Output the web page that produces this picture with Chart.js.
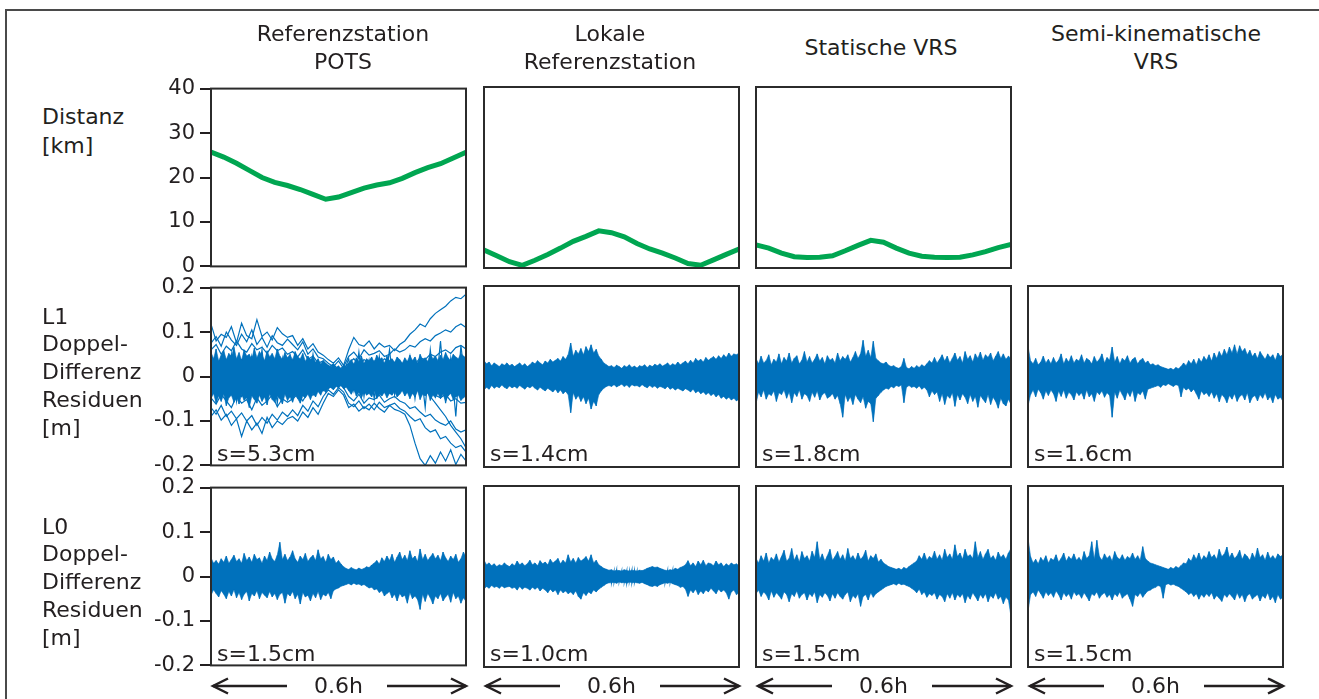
<!DOCTYPE html>
<html>
<head>
<meta charset="utf-8">
<script src="https://cdn.jsdelivr.net/npm/chart.js@4.4.1/dist/chart.umd.min.js"></script>
<style>
body { margin: 0; background: #fff; }
#fig { position: relative; width: 1319px; height: 699px; overflow: hidden; background: #fff;
  font-family: "DejaVu Sans", sans-serif; color: #231f20; }
.txt { position: absolute; font-size: 22px; line-height: 28px; white-space: nowrap; }
.c { transform: translateX(-50%); text-align: center; }
canvas { position: absolute; }
.rule { position: absolute; background: #4a4a4a; }
</style>
</head>
<body>
<div id="fig">
  <div class="rule" style="left:5px;top:9px;width:1314px;height:2px"></div>
  <div class="rule" style="left:5px;top:9px;width:2px;height:690px"></div>
</div>
<script>
// text
var columnTitles = [["Referenzstation", "POTS"], ["Lokale", "Referenzstation"], ["Statische VRS"], ["Semi-kinematische", "VRS"]];
var rowLabels = [["Distanz", "[km]"], ["L1", "Doppel-", "Differenz", "Residuen", "[m]"], ["L0", "Doppel-", "Differenz", "Residuen", "[m]"]];
var sigmaL1 = ["s=5.3cm", "s=1.4cm", "s=1.8cm", "s=1.6cm"];
var sigmaL0 = ["s=1.5cm", "s=1.0cm", "s=1.5cm", "s=1.5cm"];
var spanLabel = "0.6h";
var distTicks = ["0", "10", "20", "30", "40"];
var residTicks = ["-0.2", "-0.1", "0", "0.1", "0.2"];

// distance to reference [km]
var distPOTS = [25.7, 24.6, 23.2, 21.6, 20.0, 18.9, 18.2, 17.3, 16.2, 15.1, 15.6, 16.6, 17.6, 18.3, 18.8, 19.8, 21.1, 22.2, 23.1, 24.4, 25.7];
var distLokal = [4.0, 2.7, 1.4, 0.6, 1.7, 3.0, 4.4, 5.9, 7.0, 8.2, 7.8, 6.9, 5.4, 4.2, 3.3, 2.2, 1.0, 0.6, 1.8, 3.0, 4.2];
var distStatisch = [5.1, 4.4, 3.3, 2.5, 2.3, 2.4, 2.7, 3.8, 5.0, 6.1, 5.7, 4.4, 3.3, 2.6, 2.4, 2.3, 2.4, 2.9, 3.6, 4.5, 5.2];

// L1 residuals POTS, single double differences [mm]
var potsL1A = [118, 80, 95, 88, 112, 76, 120, 92, 85, 128, 90, 100, 82, 110, 96, 88, 92, 70, 85, 62, 74, 55, 48, 38, 30, 42, 25, 60, 88, 72, 68, 80, 62, 75, 66, 70, 58, 72, 80, 95, 105, 118, 112, 130, 142, 150, 158, 170, 178, 175, 185];
var potsL1B = [60, 72, 50, 68, 58, 80, 62, 55, 74, 60, 66, 52, 70, 58, 64, 50, 56, 44, 60, 38, 46, 30, 35, 20, 28, 15, 22, 45, 55, 40, 60, 48, 52, 58, 45, 50, 62, 55, 60, 70, 66, 78, 85, 80, 92, 98, 105, 100, 112, 118, 110];
var potsL1C = [30, 42, 22, 35, 48, 25, 38, 30, 45, 20, 36, 28, 40, 24, 33, 26, 30, 18, 28, 14, 22, 10, 18, 8, 15, 5, 12, 25, 15, 30, 20, 28, 22, 18, 30, 24, 16, 28, 30, 35, 28, 42, 38, 50, 45, 55, 60, 52, 65, 70, 62];
var potsL1D = [10, -5, 18, 5, 22, 0, 12, -8, 15, 5, 20, -2, 10, 14, 0, 8, 5, 12, -4, 8, 2, 10, 0, 5, -3, 8, 0, 10, 2, 15, 5, 8, 0, 12, 4, 10, 6, 2, 8, 12, 5, 15, 10, 20, 14, 25, 18, 30, 22, 28, 35];
var potsL1E = [-10, 5, -18, -2, -12, 8, -20, -5, -15, 2, -22, -8, -3, -14, 4, -10, -6, 2, -10, -2, -8, 0, -5, -2, 4, -6, 0, -5, 2, -8, -3, 4, -6, 0, -4, 2, -7, -2, -5, 0, -8, 2, -4, -10, -2, 5, -6, 0, -8, 3, -4];
var potsL1F = [-30, -15, -40, -22, -35, -18, -45, -28, -20, -38, -25, -42, -30, -20, -36, -26, -28, -18, -30, -15, -22, -12, -18, -10, -16, -6, -12, -20, -14, -25, -18, -22, -15, -28, -20, -18, -24, -16, -22, -28, -20, -32, -38, -30, -42, -48, -40, -55, -50, -60, -58];
var potsL1G = [-48, -62, -40, -55, -70, -45, -60, -52, -75, -48, -65, -55, -42, -68, -50, -58, -50, -40, -55, -35, -42, -28, -32, -20, -28, -15, -25, -45, -55, -40, -60, -48, -52, -42, -58, -50, -45, -55, -60, -72, -68, -80, -90, -85, -98, -105, -110, -100, -118, -125, -120];
var potsL1H = [-70, -85, -65, -90, -78, -95, -82, -100, -88, -110, -92, -105, -85, -98, -80, -90, -75, -88, -65, -78, -55, -68, -45, -30, -40, -25, -35, -60, -68, -55, -72, -62, -75, -58, -70, -65, -60, -72, -78, -90, -100, -95, -115, -125, -120, -140, -135, -150, -160, -155, -170];
var potsL1I = [-90, -75, -98, -85, -110, -95, -135, -100, -120, -105, -128, -92, -115, -100, -108, -95, -90, -100, -80, -92, -70, -85, -60, -38, -45, -30, -42, -70, -62, -78, -68, -75, -60, -72, -80, -65, -74, -78, -85, -110, -150, -185, -200, -178, -195, -170, -190, -165, -198, -175, -190];
var potsL1J = [20, -40, 35, -25, 50, -55, 30, -35, 45, -20, 60, -45, 25, -60, 40, -30, 35, -40, 25, -30, 50, -25, 20, -15, 25, -20, 10, 40, -30, 55, -45, 35, -50, 45, -25, 60, -40, 30, -20, 45, -50, 30, -70, 60, -40, 80, -60, 40, -90, 70, -30];
var potsL1K = [75, 90, 68, 100, 82, 70, 95, 78, 105, 72, 88, 66, 92, 76, 70, 84, 72, 60, 78, 50, 62, 44, 40, 30, 22, 35, 18, 30, 40, 25, 38, 30, 35, 28, 40, 32, 25, 35, 20, 10, 0, -15, -30, -45, -60, -75, -90, -110, -125, -140, -160];
// dense core of the POTS L1 residuals [mm]
var potsL1Upper = [55, 40, 62, 35, 48, 58, 38, 52, 44, 66, 40, 54, 36, 60, 46, 50, 38, 64, 42, 56, 48, 36, 58, 44, 52, 40, 62, 46, 38, 54, 42, 50, 36, 56, 44, 40, 52, 34, 46, 38, 44, 32, 40, 28, 36, 30, 26, 22, 28, 20, 24, 18, 26, 22, 30, 38, 28, 42, 34, 46, 30, 40, 36, 44, 32, 48, 38, 42, 30, 46, 36, 40, 32, 44, 38, 30, 42, 34, 48, 36, 44, 30, 50, 38, 42, 34, 52, 40, 46, 36, 48, 38, 54, 42, 36, 50, 44, 40, 52, 46, 42];
var potsL1Lower = [-50, -38, -60, -44, -56, -40, -66, -48, -42, -58, -46, -62, -40, -54, -48, -70, -44, -52, -60, -42, -56, -46, -64, -40, -52, -58, -44, -50, -62, -40, -54, -46, -58, -42, -50, -60, -44, -48, -40, -52, -38, -46, -34, -42, -30, -36, -28, -24, -30, -22, -26, -20, -28, -24, -32, -40, -30, -44, -36, -48, -34, -42, -38, -46, -32, -50, -40, -44, -36, -48, -38, -42, -34, -46, -40, -32, -44, -36, -50, -38, -46, -32, -52, -40, -44, -36, -54, -42, -48, -38, -50, -40, -56, -44, -38, -52, -46, -42, -54, -48, -44];

// L1 residual envelopes [mm]
var lokalL1Upper = [35, 28, 32, 24, 30, 26, 22, 28, 25, 30, 24, 27, 22, 26, 30, 24, 28, 22, 26, 32, 28, 35, 30, 26, 34, 30, 38, 32, 36, 40, 34, 44, 38, 48, 74, 45, 58, 50, 62, 48, 66, 55, 70, 52, 60, 45, 38, 30, 26, 22, 24, 20, 25, 22, 18, 24, 21, 26, 20, 23, 19, 24, 22, 26, 20, 25, 22, 27, 24, 28, 23, 26, 30, 24, 28, 25, 32, 26, 30, 34, 28, 36, 30, 40, 34, 38, 32, 42, 36, 40, 44, 38, 46, 40, 48, 42, 52, 45, 50, 48, 52];
var lokalL1Lower = [-30, -24, -28, -20, -26, -22, -25, -19, -24, -27, -21, -25, -22, -26, -20, -24, -28, -22, -25, -21, -26, -30, -24, -28, -32, -26, -30, -34, -28, -36, -30, -38, -33, -40, -80, -36, -50, -42, -55, -45, -60, -48, -72, -55, -65, -40, -32, -26, -22, -20, -22, -18, -23, -20, -17, -22, -19, -24, -18, -21, -20, -23, -18, -22, -25, -20, -24, -21, -26, -22, -24, -27, -22, -28, -25, -30, -26, -29, -32, -27, -30, -34, -28, -36, -32, -38, -34, -40, -36, -42, -38, -45, -40, -48, -44, -50, -46, -52, -48, -54, -50];
var statL1Upper = [40, 28, 45, 30, 35, 48, 26, 38, 32, 50, 28, 42, 34, 52, 30, 40, 46, 28, 36, 55, 32, 44, 30, 38, 50, 34, 42, 28, 46, 36, 40, 30, 52, 35, 44, 38, 48, 32, 42, 55, 40, 50, 80, 45, 58, 42, 78, 40, 35, 30, 28, 32, 25, 22, 24, 20, 18, 22, 40, 20, 17, 22, 18, 24, 20, 26, 22, 28, 35, 30, 42, 30, 38, 48, 34, 45, 30, 40, 52, 36, 44, 30, 55, 38, 46, 32, 50, 40, 54, 36, 48, 42, 52, 35, 45, 55, 40, 50, 38, 45, 40];
var statL1Lower = [-60, -35, -45, -30, -50, -38, -42, -32, -55, -36, -40, -30, -48, -34, -58, -36, -44, -30, -50, -38, -42, -55, -35, -46, -32, -52, -40, -36, -48, -44, -38, -50, -42, -60, -90, -40, -55, -45, -62, -40, -50, -58, -45, -70, -55, -60, -100, -48, -42, -35, -30, -26, -28, -22, -25, -20, -22, -19, -58, -24, -20, -24, -22, -26, -21, -28, -24, -30, -45, -32, -40, -34, -55, -38, -62, -42, -48, -36, -66, -40, -52, -38, -46, -60, -40, -55, -44, -68, -42, -50, -58, -40, -62, -46, -55, -70, -48, -60, -65, -50, -62];
var semiL1Upper = [67, 35, 28, 40, 26, 32, 45, 30, 38, 28, 42, 30, 36, 50, 28, 40, 32, 46, 30, 38, 34, 48, 30, 40, 36, 28, 44, 32, 38, 50, 30, 42, 36, 65, 32, 44, 28, 40, 35, 46, 30, 38, 42, 28, 36, 40, 30, 34, 26, 28, 24, 26, 22, 20, 18, 16, 18, 15, 20, 17, 22, 30, 24, 35, 28, 38, 26, 40, 32, 44, 36, 48, 34, 52, 40, 55, 45, 60, 48, 65, 52, 70, 50, 68, 55, 62, 48, 58, 44, 52, 40, 55, 46, 38, 50, 42, 48, 36, 52, 44, 50];
var semiL1Lower = [-65, -40, -30, -45, -28, -36, -50, -32, -42, -30, -38, -55, -32, -44, -30, -48, -35, -40, -52, -34, -42, -36, -50, -30, -45, -38, -55, -34, -40, -32, -46, -36, -42, -90, -35, -48, -30, -40, -52, -34, -44, -30, -55, -36, -40, -32, -50, -28, -26, -24, -22, -20, -24, -18, -20, -16, -19, -22, -18, -20, -45, -24, -30, -26, -34, -28, -38, -50, -32, -40, -36, -44, -34, -48, -38, -56, -40, -46, -58, -42, -50, -38, -55, -44, -40, -52, -36, -58, -46, -42, -54, -40, -48, -36, -52, -44, -58, -40, -50, -46, -55];

// L0 residual envelopes [mm]
var potsL0Upper = [42, 30, 36, 28, 40, 32, 46, 30, 38, 48, 34, 40, 30, 52, 36, 44, 32, 50, 38, 42, 30, 46, 36, 55, 40, 34, 48, 77, 38, 50, 36, 44, 58, 40, 32, 46, 38, 52, 34, 42, 48, 36, 60, 40, 45, 32, 50, 38, 44, 30, 36, 28, 22, 18, 16, 20, 17, 15, 19, 16, 18, 22, 20, 26, 30, 36, 28, 42, 34, 46, 36, 50, 32, 44, 55, 38, 48, 36, 58, 40, 46, 34, 62, 38, 50, 36, 44, 52, 40, 48, 36, 55, 42, 34, 46, 38, 50, 32, 40, 55, 44];
var potsL0Lower = [-42, -30, -38, -46, -32, -40, -50, -34, -44, -30, -48, -36, -52, -40, -34, -55, -38, -44, -32, -50, -36, -42, -48, -34, -46, -38, -52, -40, -36, -60, -38, -44, -34, -50, -40, -62, -36, -46, -42, -55, -38, -48, -34, -52, -40, -44, -36, -50, -32, -28, -26, -22, -20, -18, -16, -19, -15, -18, -17, -20, -18, -22, -26, -24, -30, -28, -36, -32, -44, -38, -34, -48, -40, -55, -38, -46, -42, -60, -36, -50, -44, -52, -74, -40, -56, -38, -48, -62, -44, -50, -38, -55, -46, -40, -58, -36, -50, -44, -60, -48, -56];
var lokalL0Upper = [36, 26, 30, 24, 28, 22, 26, 24, 30, 25, 22, 28, 24, 34, 26, 30, 24, 28, 36, 26, 30, 24, 35, 28, 32, 26, 38, 30, 34, 40, 28, 36, 30, 48, 32, 40, 30, 42, 34, 38, 44, 34, 48, 30, 36, 26, 22, 18, 16, 14, 15, 12, 14, 13, 12, 15, 13, 12, 14, 13, 12, 14, 13, 15, 18, 20, 22, 20, 21, 18, 16, 14, 13, 15, 14, 18, 16, 20, 22, 26, 35, 24, 30, 22, 34, 26, 36, 24, 30, 28, 24, 34, 26, 30, 22, 28, 24, 30, 26, 28, 24];
var lokalL0Lower = [-28, -22, -26, -20, -24, -22, -26, -21, -25, -23, -22, -26, -24, -30, -22, -28, -24, -26, -30, -24, -28, -24, -32, -26, -30, -36, -28, -34, -30, -40, -30, -36, -32, -38, -34, -40, -32, -44, -50, -36, -42, -34, -38, -30, -34, -28, -24, -20, -16, -14, -14, -13, -15, -12, -14, -13, -15, -12, -14, -13, -14, -15, -13, -16, -18, -21, -22, -20, -22, -18, -16, -14, -15, -13, -16, -18, -20, -24, -22, -28, -44, -30, -36, -28, -40, -32, -38, -30, -34, -26, -32, -38, -28, -34, -30, -36, -50, -34, -30, -40, -36];
var statL0Upper = [40, 30, 46, 34, 52, 30, 42, 36, 50, 32, 44, 58, 34, 40, 62, 36, 48, 32, 55, 40, 46, 34, 56, 42, 77, 38, 50, 34, 46, 60, 36, 44, 55, 38, 48, 34, 62, 40, 46, 36, 52, 38, 44, 58, 34, 46, 40, 50, 32, 38, 30, 26, 22, 20, 18, 16, 18, 15, 20, 17, 22, 26, 30, 34, 46, 38, 52, 36, 44, 40, 56, 38, 48, 36, 60, 42, 50, 38, 70, 44, 52, 38, 60, 44, 48, 40, 77, 42, 55, 38, 50, 60, 40, 46, 36, 54, 42, 48, 38, 52, 62];
var statL0Lower = [-38, -30, -44, -34, -40, -52, -32, -46, -36, -42, -50, -34, -40, -56, -38, -44, -32, -48, -40, -36, -52, -38, -44, -34, -58, -40, -46, -36, -42, -54, -38, -48, -36, -44, -50, -40, -34, -56, -42, -48, -38, -66, -44, -40, -52, -36, -46, -38, -34, -30, -26, -22, -20, -18, -16, -19, -15, -18, -17, -20, -22, -26, -30, -36, -28, -40, -34, -46, -38, -42, -36, -50, -40, -44, -56, -38, -48, -36, -52, -40, -46, -38, -58, -42, -50, -36, -44, -54, -40, -48, -38, -56, -42, -48, -36, -50, -44, -60, -46, -52, -88];
var semiL0Upper = [85, 44, 30, 38, 28, 42, 34, 46, 30, 40, 36, 48, 32, 40, 52, 34, 44, 38, 50, 36, 42, 34, 55, 40, 46, 77, 38, 80, 44, 36, 50, 40, 46, 34, 55, 42, 38, 48, 36, 44, 40, 52, 38, 46, 36, 66, 40, 34, 30, 28, 26, 24, 22, 20, 18, 16, 20, 17, 22, 19, 24, 30, 28, 40, 34, 48, 38, 52, 36, 46, 40, 55, 42, 48, 38, 60, 44, 50, 65, 42, 52, 40, 46, 58, 38, 50, 44, 36, 52, 40, 63, 42, 48, 36, 54, 40, 46, 38, 50, 44, 48];
var semiL0Lower = [-77, -40, -34, -44, -30, -38, -48, -34, -42, -36, -46, -32, -40, -52, -36, -44, -38, -50, -34, -42, -38, -48, -36, -44, -54, -38, -42, -34, -48, -40, -36, -46, -40, -52, -38, -44, -34, -48, -42, -38, -50, -66, -40, -44, -36, -46, -38, -32, -30, -26, -24, -20, -22, -48, -18, -16, -19, -17, -20, -22, -26, -30, -34, -40, -36, -44, -38, -50, -40, -46, -38, -44, -36, -50, -42, -48, -55, -40, -46, -38, -44, -52, -36, -48, -40, -56, -42, -38, -50, -44, -40, -54, -42, -48, -36, -52, -44, -58, -40, -50, -46];

var colLeft = [211, 484, 756, 1028];
var rowTop = [87, 286, 486];
var panelW = 255, panelH = 181;
var green = "#00a651", blue = "#0071bc", ink = "#231f20";

var fig = document.getElementById("fig");

var framePlugin = {
  id: "frame",
  afterDatasetsDraw: function (chart) {
    var a = chart.chartArea, ctx = chart.ctx;
    ctx.save();
    ctx.strokeStyle = "#2b2b2b";
    ctx.lineWidth = 2;
    ctx.strokeRect(a.left, a.top, a.right - a.left, a.bottom - a.top);
    ctx.restore();
  }
};

// samples are evenly spaced over the 0.6h window
function series(values) {
  return values.map(function (v, i) { return { x: i / (values.length - 1), y: v }; });
}

function makePanel(col, row, datasets, yMin, yMax, step, tickLabels) {
  var axisW = col === 0 ? 80 : 0;
  var cv = document.createElement("canvas");
  cv.width = panelW + 12 + axisW;
  cv.height = panelH + 32;
  cv.style.left = (colLeft[col] - 6 - axisW) + "px";
  cv.style.top = (rowTop[row] - 16) + "px";
  fig.appendChild(cv);
  new Chart(cv, {
    type: "line",
    data: { datasets: datasets },
    options: {
      responsive: false,
      animation: false,
      devicePixelRatio: 1,
      layout: { padding: { left: 6, right: 6, top: 16, bottom: 16 } },
      plugins: { legend: { display: false }, tooltip: { enabled: false } },
      elements: { point: { radius: 0 }, line: { tension: 0 } },
      scales: {
        x: { type: "linear", display: false, min: 0, max: 1 },
        y: {
          display: col === 0,
          min: yMin,
          max: yMax,
          afterFit: function (s) { s.width = axisW; },
          ticks: {
            stepSize: step,
            padding: 5,
            color: ink,
            font: { family: "DejaVu Sans", size: 21 },
            callback: function (v, i) { return tickLabels[i]; }
          },
          grid: { drawOnChartArea: false, drawTicks: true, tickLength: 11, color: ink, lineWidth: 2 },
          border: { display: false }
        }
      }
    },
    plugins: [framePlugin]
  });
}

function distLine(values) {
  return [{ data: series(values), borderColor: green, borderWidth: 5, fill: false }];
}

// noise band: solid core between the envelopes, plus one stroke per sample
function band(upper, lower) {
  var pts = [];
  var n = upper.length;
  for (var i = 0; i < n; i++) {
    pts.push({ x: i / (n - 1), y: upper[i] });
    pts.push({ x: i / (n - 1), y: lower[i] });
  }
  return [
    { data: series(upper), borderColor: blue, borderWidth: 0.6, fill: false },
    { data: series(lower), borderColor: blue, borderWidth: 0.6, backgroundColor: blue, fill: "-1" },
    { data: pts, borderColor: blue, borderWidth: 1.1, fill: false }
  ];
}

function lines(list) {
  return list.map(function (d) {
    return { data: series(d), borderColor: blue, borderWidth: 1.2, fill: false };
  });
}

makePanel(0, 0, distLine(distPOTS), 0, 40, 10, distTicks);
makePanel(1, 0, distLine(distLokal), 0, 40, 10, distTicks);
makePanel(2, 0, distLine(distStatisch), 0, 40, 10, distTicks);

makePanel(0, 1, band(potsL1Upper, potsL1Lower).concat(lines([potsL1A, potsL1B, potsL1C, potsL1D, potsL1E, potsL1F, potsL1G, potsL1H, potsL1I, potsL1J, potsL1K])), -200, 200, 100, residTicks);
makePanel(1, 1, band(lokalL1Upper, lokalL1Lower), -200, 200, 100, residTicks);
makePanel(2, 1, band(statL1Upper, statL1Lower), -200, 200, 100, residTicks);
makePanel(3, 1, band(semiL1Upper, semiL1Lower), -200, 200, 100, residTicks);

makePanel(0, 2, band(potsL0Upper, potsL0Lower), -200, 200, 100, residTicks);
makePanel(1, 2, band(lokalL0Upper, lokalL0Lower), -200, 200, 100, residTicks);
makePanel(2, 2, band(statL0Upper, statL0Lower), -200, 200, 100, residTicks);
makePanel(3, 2, band(semiL0Upper, semiL0Lower), -200, 200, 100, residTicks);

function addText(lineList, x, y, center, lh) {
  var d = document.createElement("div");
  d.className = "txt" + (center ? " c" : "");
  d.style.left = x + "px";
  d.style.top = y + "px";
  if (lh) d.style.lineHeight = lh + "px";
  d.innerHTML = lineList.join("<br>");
  fig.appendChild(d);
}

var titleCenters = [343, 610, 881, 1156];
columnTitles.forEach(function (t, i) {
  addText(t, titleCenters[i], t.length > 1 ? 20 : 34.4, true);
});

var labelTops = [103.4, 302.7, 512.7];
var labelSpacing = [28.5, 27.8, 27.8];
rowLabels.forEach(function (t, i) {
  addText(t, 42, labelTops[i], false, labelSpacing[i]);
});

for (var c = 0; c < 4; c++) {
  addText([sigmaL1[c]], colLeft[c] + 6, rowTop[1] + panelH - 26.6, false);
  addText([sigmaL0[c]], colLeft[c] + 6, rowTop[2] + panelH - 26.6, false);
  addText([spanLabel], colLeft[c] + 127.5, 671.7, true);
}

// time-span arrows under the bottom row
var ns = "http://www.w3.org/2000/svg";
var svg = document.createElementNS(ns, "svg");
svg.setAttribute("width", 1319);
svg.setAttribute("height", 699);
svg.style.position = "absolute";
svg.style.left = "0px";
svg.style.top = "0px";
fig.appendChild(svg);
function poly(pts) {
  var p = document.createElementNS(ns, "polyline");
  p.setAttribute("points", pts);
  p.setAttribute("fill", "none");
  p.setAttribute("stroke", ink);
  p.setAttribute("stroke-width", 2.5);
  svg.appendChild(p);
}
var ay = 686;
colLeft.forEach(function (L) {
  var R = L + panelW;
  poly((L + 2) + "," + ay + " " + (L + 76) + "," + ay);
  poly((L + 17) + "," + (ay - 7.5) + " " + (L + 2) + "," + ay + " " + (L + 17) + "," + (ay + 7.5));
  poly((L + 176) + "," + ay + " " + R + "," + ay);
  poly((R - 15) + "," + (ay - 7.5) + " " + R + "," + ay + " " + (R - 15) + "," + (ay + 7.5));
});
</script>
</body>
</html>
